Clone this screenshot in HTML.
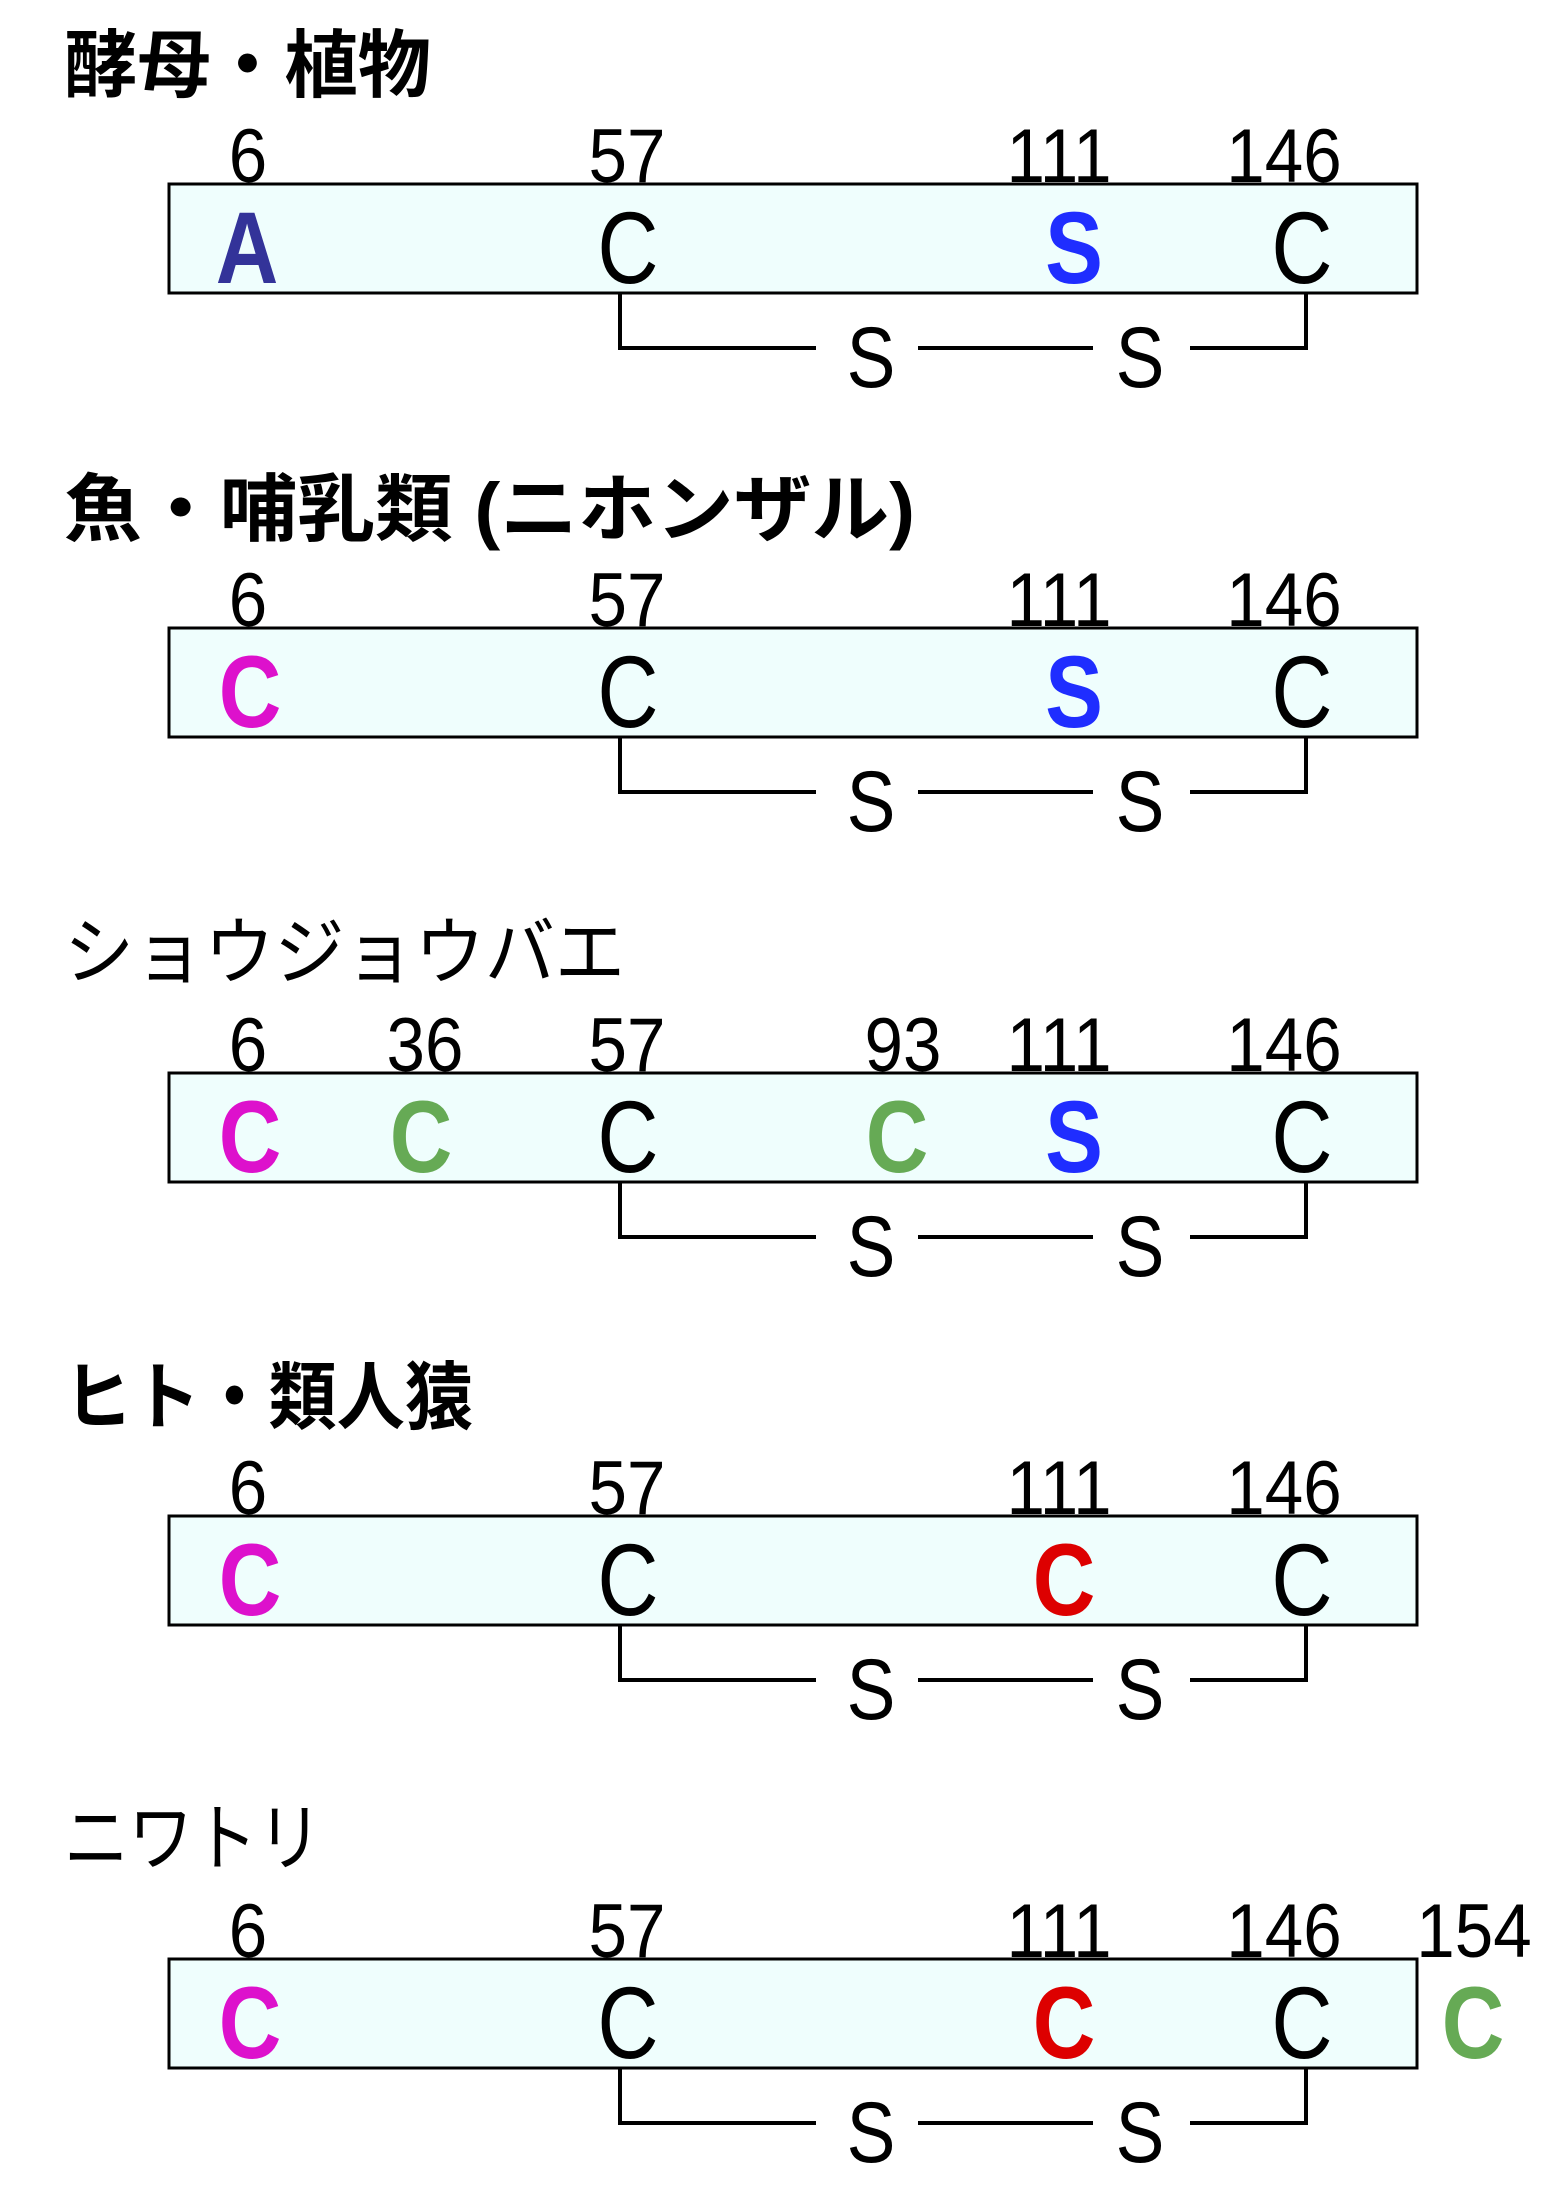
<!DOCTYPE html>
<html><head><meta charset="utf-8"><style>
html,body{margin:0;padding:0;background:#fff;}
svg{display:block;}
.t{font-family:"Liberation Sans","Noto Sans CJK JP",sans-serif;font-size:74px;}
.n{font-family:"Liberation Sans",sans-serif;font-size:76px;}
.c{font-family:"Liberation Sans",sans-serif;font-size:102px;}
.b{font-weight:bold;}
.s{font-family:"Liberation Sans",sans-serif;font-size:86px;}
</style></head><body>
<svg width="1553" height="2186" viewBox="0 0 1553 2186" xmlns="http://www.w3.org/2000/svg">
<defs>
<g id="box">
<rect x="169" y="0" width="1248" height="109" fill="#effefd" stroke="#000" stroke-width="3"/>
<g fill="none" stroke="#000" stroke-width="4">
<polyline points="620,109 620,164 816,164"/>
<line x1="918" y1="164" x2="1093" y2="164"/>
<polyline points="1190,164 1306,164 1306,109"/>
</g>
<text class="s" transform="translate(871,203) scale(0.85,1)" text-anchor="middle">S</text>
<text class="s" transform="translate(1140,203) scale(0.85,1)" text-anchor="middle">S</text>
<text class="n" transform="translate(248,-2) scale(0.91,1)" text-anchor="middle">6</text>
<text class="n" transform="translate(627,-2) scale(0.91,1)" text-anchor="middle">57</text>
<text class="n" transform="translate(1059,-2) scale(0.91,1)" text-anchor="middle">111</text>
<text class="n" transform="translate(1284,-2) scale(0.91,1)" text-anchor="middle">146</text>
<text class="c" transform="translate(628,99) scale(0.83,1)" text-anchor="middle">C</text>
<text class="c" transform="translate(1302,99) scale(0.83,1)" text-anchor="middle">C</text>
</g>
</defs>

<g transform="translate(0,184)">
<use href="#box"/>
<text class="t b" x="64" y="-93" textLength="367" lengthAdjust="spacingAndGlyphs">酵母・植物</text>
<text class="c b" fill="#333399" transform="translate(247,99) scale(0.85,1)" text-anchor="middle">A</text>
<text class="c b" fill="#1f2dff" transform="translate(1074,99) scale(0.85,1)" text-anchor="middle">S</text>
</g>

<g transform="translate(0,628)">
<use href="#box"/>
<text class="t b" x="64" y="-93" textLength="851" lengthAdjust="spacingAndGlyphs">魚・哺乳類 (ニホンザル)</text>
<text class="c b" fill="#dd11cc" transform="translate(250,99) scale(0.85,1)" text-anchor="middle">C</text>
<text class="c b" fill="#1f2dff" transform="translate(1074,99) scale(0.85,1)" text-anchor="middle">S</text>
</g>

<g transform="translate(0,1073)">
<use href="#box"/>
<text class="t" x="64" y="-95" textLength="561" lengthAdjust="spacingAndGlyphs">ショウジョウバエ</text>
<text class="n" transform="translate(425,-2) scale(0.91,1)" text-anchor="middle">36</text>
<text class="n" transform="translate(903,-2) scale(0.91,1)" text-anchor="middle">93</text>
<text class="c b" fill="#dd11cc" transform="translate(250,99) scale(0.85,1)" text-anchor="middle">C</text>
<text class="c b" fill="#66aa55" transform="translate(421,99) scale(0.85,1)" text-anchor="middle">C</text>
<text class="c b" fill="#66aa55" transform="translate(897,99) scale(0.85,1)" text-anchor="middle">C</text>
<text class="c b" fill="#1f2dff" transform="translate(1074,99) scale(0.85,1)" text-anchor="middle">S</text>
</g>

<g transform="translate(0,1516)">
<use href="#box"/>
<text class="t b" x="64" y="-93" textLength="409" lengthAdjust="spacingAndGlyphs">ヒト・類人猿</text>
<text class="c b" fill="#dd11cc" transform="translate(250,99) scale(0.85,1)" text-anchor="middle">C</text>
<text class="c b" fill="#dd0000" transform="translate(1064,99) scale(0.85,1)" text-anchor="middle">C</text>
</g>

<g transform="translate(0,1959)">
<use href="#box"/>
<text class="t" x="64" y="-95" textLength="258" lengthAdjust="spacingAndGlyphs">ニワトリ</text>
<text class="n" transform="translate(1474,-2) scale(0.91,1)" text-anchor="middle">154</text>
<text class="c b" fill="#dd11cc" transform="translate(250,99) scale(0.85,1)" text-anchor="middle">C</text>
<text class="c b" fill="#dd0000" transform="translate(1064,99) scale(0.85,1)" text-anchor="middle">C</text>
<text class="c b" fill="#66aa55" transform="translate(1473,99) scale(0.85,1)" text-anchor="middle">C</text>
</g>
</svg>
</body></html>
